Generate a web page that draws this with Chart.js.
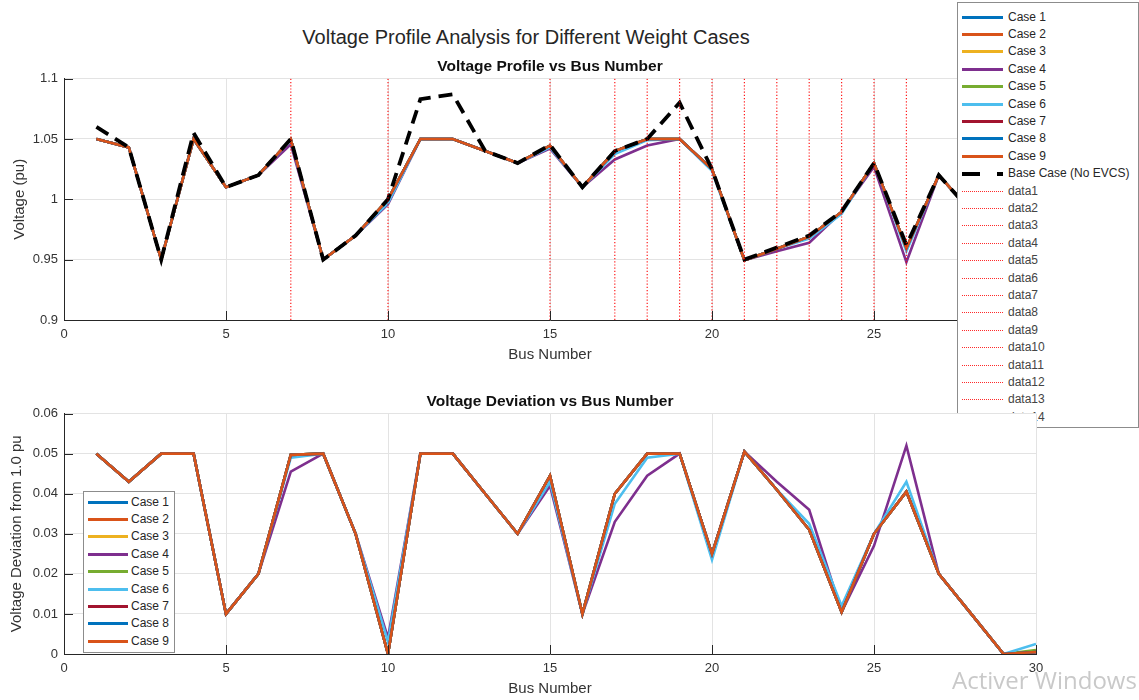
<!DOCTYPE html>
<html>
<head>
  <title>Voltage Profile Analysis for Different Weight Cases</title>
  <script src="https://cdn.jsdelivr.net/npm/chart.js"></script>
  <style>
    body {
      margin: 0;
      background: #fff;
      font-family: "Liberation Sans", Arial, sans-serif;
      width: 1139px;
      height: 700px;
      overflow: hidden;
      position: relative;
    }
    #supTitle {
      position: absolute; left: 0; top: 25px; width: 1052px;
      line-height: 24px; font-size: 20px; color: #262626; text-align: center;
    }
    #topChart { position: absolute; left: 0; top: 0; z-index: 0; }
    #bottomChart { position: absolute; left: 0; top: 380px; z-index: 2; }
    .legend {
      position: absolute; background: #fff; border: 1px solid #8c8c8c;
      font-size: 12px; color: #262626;
    }
    #topLegend { left: 957px; top: 2px; width: 180px; height: 424px; z-index: 1; }
    #bottomLegend { left: 83px; top: 491px; width: 90px; height: 160px; z-index: 3; }
    .item { position: absolute; left: 0; height: 17px; line-height: 17px; white-space: nowrap; }
    .swatch { position: absolute; left: 4px; top: 7px; width: 41px; height: 3px; }
    .item span { position: absolute; left: 50px; top: 0; }
    .item.dim span { color: #444; }
    #bottomLegend .swatch { width: 40px; }
    #bottomLegend .item span { left: 47px; }
    #watermark {
      position: absolute; left: 952px; top: 663px; z-index: 5;
      font-family: "Open Sans", sans-serif; font-size: 24px; color: #c9c9c9; white-space: nowrap;
    }
  </style>
</head>
<body>
  <div id="supTitle">Voltage Profile Analysis for Different Weight Cases</div>
  <canvas id="topChart" width="1139" height="380"></canvas>
  <div id="topLegend" class="legend"></div>
  <canvas id="bottomChart" width="1139" height="320"></canvas>
  <div id="bottomLegend" class="legend"></div>
  <div id="watermark">Activer Windows</div>

  <script>
    // Bus numbers
    const buses = [1, 2, 3, 4, 5, 6, 7, 8, 9, 10, 11, 12, 13, 14, 15, 16, 17, 18, 19, 20, 21, 22, 23, 24, 25, 26, 27, 28, 29, 30];

    // Voltage profile (pu)
    const vCommon = [1.05, 1.043, 0.95, 1.05, 1.01, 1.02, 1.0497, 0.95, 0.97, 1.0, 1.05, 1.05, 1.04, 1.03, 1.0445, 1.01, 1.04, 1.05, 1.05, 1.025, 0.9495, 0.959, 0.969, 0.9895, 1.03, 0.9595, 1.02, 0.99, 1.0, 1.0005];
    const vCase4 = [1.05, 1.043, 0.95, 1.05, 1.01, 1.02, 1.0455, 0.95, 0.97, 0.996, 1.05, 1.05, 1.04, 1.03, 1.042, 1.01, 1.033, 1.0445, 1.05, 1.025, 0.9495, 0.957, 0.964, 0.9895, 1.027, 0.948, 1.02, 0.99, 1.0, 1.0005];
    const vCase5 = [1.05, 1.043, 0.95, 1.05, 1.01, 1.02, 1.0497, 0.95, 0.97, 1.0, 1.05, 1.05, 1.04, 1.03, 1.0445, 1.01, 1.04, 1.05, 1.05, 1.025, 0.9495, 0.959, 0.969, 0.9895, 1.03, 0.9595, 1.02, 0.99, 1.0, 1.001];
    const vCase6 = [1.05, 1.043, 0.95, 1.05, 1.01, 1.02, 1.049, 0.95, 0.97, 0.997, 1.05, 1.05, 1.04, 1.03, 1.043, 1.01, 1.0375, 1.049, 1.05, 1.0235, 0.9495, 0.959, 0.9675, 0.988, 1.03, 0.957, 1.02, 0.99, 1.0, 1.0025];
    const vBase = [1.06, 1.043, 0.95, 1.055, 1.01, 1.02, 1.05, 0.95, 0.97, 1.0, 1.083, 1.087, 1.04, 1.03, 1.045, 1.01, 1.04, 1.05, 1.08, 1.025, 0.95, 0.96, 0.97, 0.99, 1.03, 0.962, 1.02, 0.99, 1.0, 1.0];

    // Voltage deviation from 1.0 pu
    const devCommon = [0.05, 0.043, 0.05, 0.05, 0.01, 0.02, 0.0497, 0.05, 0.03, 0, 0.05, 0.05, 0.04, 0.03, 0.0445, 0.01, 0.04, 0.05, 0.05, 0.025, 0.0505, 0.041, 0.031, 0.0105, 0.03, 0.0405, 0.02, 0.01, 0, 0.0005];
    const devCase4 = [0.05, 0.043, 0.05, 0.05, 0.01, 0.02, 0.0455, 0.05, 0.03, 0.004, 0.05, 0.05, 0.04, 0.03, 0.042, 0.01, 0.033, 0.0445, 0.05, 0.025, 0.0505, 0.043, 0.036, 0.0105, 0.027, 0.052, 0.02, 0.01, 0, 0.0005];
    const devCase5 = [0.05, 0.043, 0.05, 0.05, 0.01, 0.02, 0.0497, 0.05, 0.03, 0, 0.05, 0.05, 0.04, 0.03, 0.0445, 0.01, 0.04, 0.05, 0.05, 0.025, 0.0505, 0.041, 0.031, 0.0105, 0.03, 0.0405, 0.02, 0.01, 0, 0.001];
    const devCase6 = [0.05, 0.043, 0.05, 0.05, 0.01, 0.02, 0.049, 0.05, 0.03, 0.003, 0.05, 0.05, 0.04, 0.03, 0.043, 0.01, 0.0375, 0.049, 0.05, 0.0235, 0.0505, 0.041, 0.0325, 0.012, 0.03, 0.043, 0.02, 0.01, 0, 0.0025];

    // EVCS bus markers (dotted red verticals)
    const evcsBuses = [7, 10, 15, 17, 18, 19, 20, 21, 22, 23, 24, 25, 26, 29];

    const caseNames = ["Case 1", "Case 2", "Case 3", "Case 4", "Case 5", "Case 6", "Case 7", "Case 8", "Case 9"];
    const caseColors = ["#0072BD", "#D95319", "#EDB120", "#7E2F8E", "#77AC30", "#4DBEEE", "#A2142F", "#0072BD", "#D95319"];
    const caseVoltages = [vCommon, vCommon, vCommon, vCase4, vCase5, vCase6, vCommon, vCommon, vCommon];
    const caseDeviations = [devCommon, devCommon, devCommon, devCase4, devCase5, devCase6, devCommon, devCommon, devCommon];

    const voltageTicks = { min: 0.9, max: 1.1, step: 0.05 };
    const deviationTicks = { min: 0, max: 0.06, step: 0.01 };
    const busTicks = { min: 0, max: 30, step: 5 };

    Chart.defaults.font.family = '"Liberation Sans", Arial, sans-serif';
    Chart.defaults.color = "#262626";

    function xyPoints(values) {
      return buses.map((b, i) => ({ x: b, y: values[i] }));
    }

    // MATLAB style inward tick marks
    const innerTicks = {
      id: "innerTicks",
      afterDraw(chart) {
        const { ctx, chartArea: a, scales: { x, y } } = chart;
        ctx.save();
        ctx.strokeStyle = "#262626";
        ctx.lineWidth = 1;
        ctx.beginPath();
        x.ticks.forEach((t) => {
          const px = Math.round(x.getPixelForValue(t.value)) + 0.5;
          ctx.moveTo(px, a.bottom);
          ctx.lineTo(px, a.bottom - 9);
        });
        y.ticks.forEach((t) => {
          const py = Math.round(y.getPixelForValue(t.value)) + 0.5;
          ctx.moveTo(a.left, py);
          ctx.lineTo(a.left + 9, py);
        });
        ctx.stroke();
        ctx.restore();
      },
    };

    // white axes background (covers legend under bottom axes)
    const areaBg = {
      id: "areaBg",
      beforeDraw(chart) {
        const { ctx, chartArea: a } = chart;
        ctx.save();
        ctx.fillStyle = "#fff";
        ctx.fillRect(a.left, a.top, a.right - a.left, a.bottom - a.top);
        ctx.restore();
      },
    };

    function makeScales(yr, yTitle, yTitlePad, xHeight, xTitlePad) {
      return {
        x: {
          type: "linear",
          min: busTicks.min,
          max: busTicks.max,
          afterFit: (s) => { s.height = xHeight; },
          ticks: { stepSize: busTicks.step, font: { size: 13 }, color: "#333", padding: 7, maxRotation: 0 },
          grid: { color: "#e3e3e3", drawTicks: false },
          border: { color: "#262626", width: 1 },
          title: { display: true, text: "Bus Number", font: { size: 15 }, color: "#333", padding: { top: 0, bottom: xTitlePad } },
        },
        y: {
          min: yr.min,
          max: yr.max,
          afterFit: (s) => { s.width = 64; },
          ticks: {
            stepSize: yr.step,
            font: { size: 13 },
            color: "#333",
            padding: 6,
            callback: (v) => String(Number(v.toFixed(4))),
          },
          grid: { color: "#e3e3e3", drawTicks: false },
          border: { color: "#262626", width: 1 },
          title: { display: true, text: yTitle, font: { size: 15 }, color: "#333", padding: { top: yTitlePad, bottom: 0 } },
        },
      };
    }

    // Top chart: voltage profile
    const topSets = caseNames.map((name, i) => ({
      label: name,
      data: xyPoints(caseVoltages[i]),
      borderColor: caseColors[i],
      borderWidth: 2.6,
      pointRadius: 0,
      tension: 0,
      order: 40 - i,
    }));
    topSets.push({
      label: "Base Case (No EVCS)",
      data: xyPoints(vBase),
      borderColor: "#000",
      borderWidth: 3.8,
      borderDash: [14, 8],
      pointRadius: 0,
      tension: 0,
      order: 20,
    });
    evcsBuses.forEach((b, i) => {
      topSets.push({
        label: "data" + (i + 1),
        data: [{ x: b, y: voltageTicks.min }, { x: b, y: voltageTicks.max }],
        borderColor: "rgba(255,0,0,0.9)",
        borderWidth: 1.2,
        borderDash: [1.2, 2],
        pointRadius: 0,
        order: 10,
      });
    });

    new Chart(document.getElementById("topChart").getContext("2d"), {
      type: "line",
      data: { datasets: topSets },
      options: {
        responsive: false,
        animation: false,
        devicePixelRatio: 1,
        layout: { padding: { top: 50, left: 0, right: 103, bottom: 0 } },
        plugins: {
          legend: { display: false },
          tooltip: { enabled: false },
          title: {
            display: true,
            fullSize: false,
            text: "Voltage Profile vs Bus Number",
            font: { size: 15.5, weight: "bold" },
            color: "#111",
            padding: { top: 7, bottom: 3 },
          },
        },
        scales: makeScales(voltageTicks, "Voltage (pu)", 11, 60, 16),
      },
      plugins: [innerTicks],
    });

    // Bottom chart: voltage deviation
    const bottomSets = caseNames.map((name, i) => ({
      label: name,
      data: xyPoints(caseDeviations[i]),
      borderColor: caseColors[i],
      borderWidth: 2.6,
      pointRadius: 0,
      tension: 0,
      order: 40 - i,
    }));

    new Chart(document.getElementById("bottomChart").getContext("2d"), {
      type: "line",
      data: { datasets: bottomSets },
      options: {
        responsive: false,
        animation: false,
        devicePixelRatio: 1,
        layout: { padding: { top: 0, left: 0, right: 103, bottom: 0 } },
        plugins: {
          legend: { display: false },
          tooltip: { enabled: false },
          title: {
            display: true,
            fullSize: false,
            text: "Voltage Deviation vs Bus Number",
            font: { size: 15.5, weight: "bold" },
            color: "#111",
            padding: { top: 12, bottom: 3 },
          },
        },
        scales: makeScales(deviationTicks, "Voltage Deviation from 1.0 pu", 8, 46, 2),
      },
      plugins: [areaBg, innerTicks],
    });

    // Legends
    function addItem(box, top, swatchCss, text, cls) {
      const item = document.createElement("div");
      item.className = "item" + (cls ? " " + cls : "");
      item.style.top = top + "px";
      const sw = document.createElement("div");
      sw.className = "swatch";
      Object.assign(sw.style, swatchCss);
      const label = document.createElement("span");
      label.textContent = text;
      item.appendChild(sw);
      item.appendChild(label);
      box.appendChild(item);
    }

    const topLegend = document.getElementById("topLegend");
    const bottomLegend = document.getElementById("bottomLegend");
    const rowH = 17.4;
    caseNames.forEach((name, i) => {
      addItem(topLegend, 5.5 + rowH * i, { background: caseColors[i] }, name);
      addItem(bottomLegend, 1.5 + rowH * i, { background: caseColors[i] }, name);
    });
    addItem(topLegend, 5.5 + rowH * 9,
      { background: "linear-gradient(90deg, #000 0 18px, transparent 18px 35px, #000 35px 41px)", height: "3.5px" },
      "Base Case (No EVCS)");
    evcsBuses.forEach((b, i) => {
      addItem(topLegend, 5.5 + rowH * (10 + i),
        { background: "none", height: "0", top: "8px", borderTop: "1px dotted #ff2a2a" },
        "data" + (i + 1), "dim");
    });
  </script>
</body>
</html>
